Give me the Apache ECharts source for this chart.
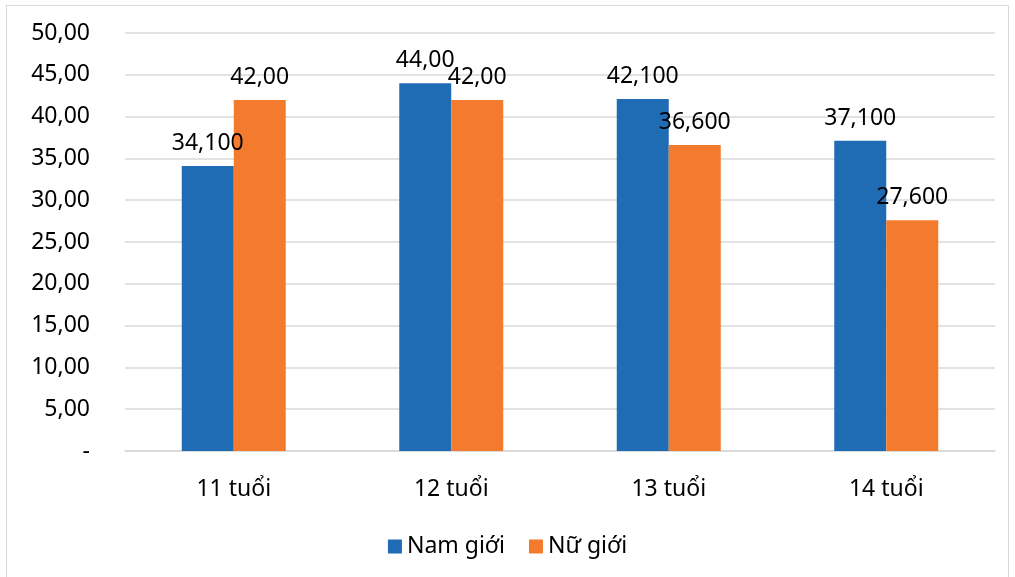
<!DOCTYPE html>
<html>
<head>
<meta charset="utf-8">
<script src="https://cdn.jsdelivr.net/npm/echarts@6/dist/echarts.min.js"></script>
<style>
  html, body { margin: 0; padding: 0; background: #fff; }
  #frame { position: absolute; left: 6px; top: 5px; width: 1003px; height: 580px; border: 1px solid #d9d9d9; box-sizing: border-box; }
  #chart { width: 1015px; height: 577px; }
</style>
</head>
<body>
<div id="frame"></div>
<div id="chart"></div>
<script>
const categories = ['11 tuổi', '12 tuổi', '13 tuổi', '14 tuổi']
const namValues = [34.1, 44, 42.1, 37.1]
const nuValues = [42, 42, 36.6, 27.6]
// nhãn dữ liệu giữ nguyên như ảnh gốc
const namLabels = ['34,100', '44,00', '42,100', '37,100']
const nuLabels = ['42,00', '42,00', '36,600', '27,600']
const yTicks = ['-', '5,00', '10,00', '15,00', '20,00', '25,00', '30,00', '35,00', '40,00', '45,00', '50,00']

const font = '"Noto Sans", "Open Sans", sans-serif'
const chart = echarts.init(document.getElementById('chart'))

const labelStyle = {
  show: true,
  position: 'top',
  distance: 11,
  color: '#000',
  fontSize: 23,
  fontFamily: font,
}

chart.setOption({
  animation: false,
  grid: { left: 125, right: 20, top: 33, bottom: 126 },
  legend: {
    data: ['Nam giới', 'Nữ giới'],
    top: 530,
    left: 'center',
    itemWidth: 14,
    itemHeight: 14,
    itemGap: 24,
    icon: 'rect',
    textStyle: { color: '#000', fontSize: 23, fontFamily: font },
  },
  xAxis: {
    type: 'category',
    data: categories,
    axisLine: { lineStyle: { color: '#d9d9d9', width: 1.5 } },
    axisTick: { show: false },
    axisLabel: { color: '#000', fontSize: 23, fontFamily: font, margin: 27 },
  },
  yAxis: {
    type: 'value',
    min: 0,
    max: 50,
    interval: 5,
    axisLine: { show: false },
    axisTick: { show: false },
    splitLine: { lineStyle: { color: '#d9d9d9', width: 1.5 } },
    axisLabel: {
      color: '#000',
      fontSize: 23,
      fontFamily: font,
      margin: 35,
      formatter: (v) => yTicks[Math.round(v / 5)],
    },
  },
  series: [
    {
      name: 'Nam giới',
      type: 'bar',
      data: namValues,
      barWidth: 52,
      barGap: '0%',
      itemStyle: { color: '#1f6cb4' },
      label: { ...labelStyle, formatter: (p) => namLabels[p.dataIndex] },
    },
    {
      name: 'Nữ giới',
      type: 'bar',
      data: nuValues,
      barWidth: 52,
      barGap: '0%',
      itemStyle: { color: '#f47b2e' },
      label: { ...labelStyle, formatter: (p) => nuLabels[p.dataIndex] },
    },
  ],
})
</script>
</body>
</html>
